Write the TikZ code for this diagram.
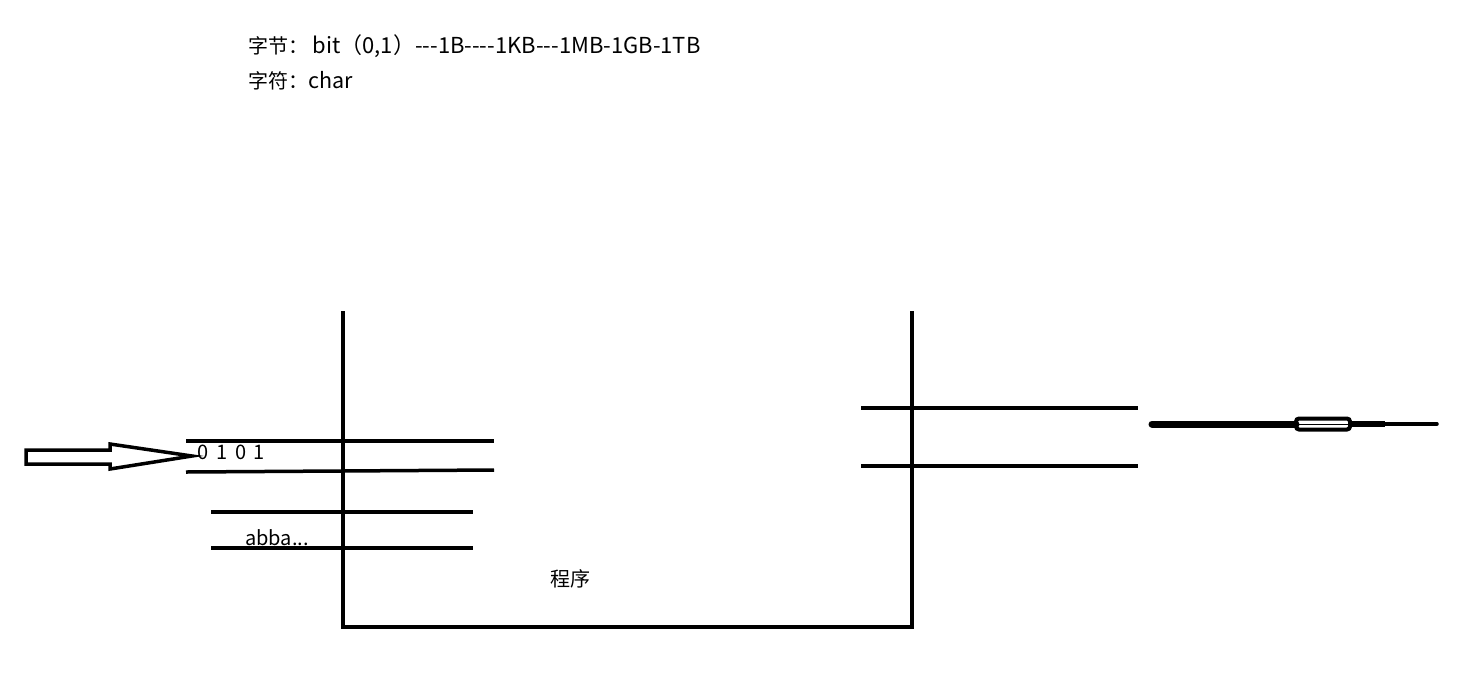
\documentclass[tikz,border=0pt]{standalone}
\usepackage{fontspec}
\newfontfamily\cjk{Noto Sans CJK SC}
\usetikzlibrary{arrows.meta,positioning}

\begin{document}
\begin{tikzpicture}[
	x=1pt,y=-1pt,
	wall/.style={
		draw=black,
		line width=4pt,
		line cap=rect
	},
	pipe/.style={
		draw=black,
		line width=3.5pt
	},
	note/.style={
		anchor=west,
		inner sep=0pt,
		font=\cjk\fontsize{20}{24}\selectfont
	},
	hollow/.style={
		draw=black,
		line width=3.5pt,
		fill=white,
		line join=miter
	}
	]
	
	\useasboundingbox[fill=white] (0,0) rectangle (1482,694);
	
	% Header text
	\node[note] (bytes) at (248,46) {字节：\ {\fontsize{22}{24}\selectfont bit（0,1）---1B----1KB---1MB-1GB-1TB}};
	\node[note] (chars) at (248,81) {字符：{\fontsize{21.5}{24}\selectfont char}};
	
	% Container
	\coordinate (tl) at (343,313);
	\coordinate (bl) at (343,627);
	\coordinate (br) at (912,627);
	\coordinate (tr) at (912,313);
	\draw[wall] (tl) -- (bl) -- (br) -- (tr);
	
	% Input pipes
	\coordinate (ina) at (186,441);
	\coordinate (inb) at (494,441);
	\coordinate (inc) at (186,472);
	\coordinate (ind) at (494,470);
	\draw[pipe] (ina) -- (inb);
	\draw[pipe] (inc) -- (ind);
	
	\coordinate (cha) at (211,512);
	\coordinate (chb) at (473,512);
	\coordinate (chc) at (211,548);
	\coordinate (chd) at (473,548);
	\draw[pipe] (cha) -- (chb);
	\draw[pipe] (chc) -- (chd);
	
	\node[note] (bits) at (197,452) {0\,\ 1\,\ 0\,\ 1};
	\node[note] (abba) at (245,538) {abba...};
	
	% Output pipes
	\coordinate (outa) at (861,408);
	\coordinate (outb) at (1138,408);
	\coordinate (outc) at (861,466);
	\coordinate (outd) at (1138,466);
	\draw[pipe] (outa) -- (outb);
	\draw[pipe] (outc) -- (outd);
	
	\node[note,anchor=center] (prog) at (570,579) {程序};
	
	% Input arrow
	\draw[hollow] (26,450) -- (110,450) -- (110,444) -- (192,456)
		-- (110,469) -- (110,464) -- (26,464) -- cycle;
	
	% Output arrow
	\coordinate (oa) at (1152,424);
	\coordinate (ob) at (1296,424);
	\coordinate (oc) at (1350,424);
	\coordinate (od) at (1385,424);
	\coordinate (oe) at (1437,424);
	\draw[black,line width=7pt,line cap=round] (oa) -- (ob);
	\draw[black,line width=4pt,rounded corners=3pt] (1296,418.5) rectangle (1350,429.5);
	\draw[black,line width=1pt] (ob) -- (oc);
	\draw[black,line width=6pt] (oc) -- (od);
	\draw[black,line width=3.5pt,line cap=round] (od) -- (oe);
	
\end{tikzpicture}
\end{document}
